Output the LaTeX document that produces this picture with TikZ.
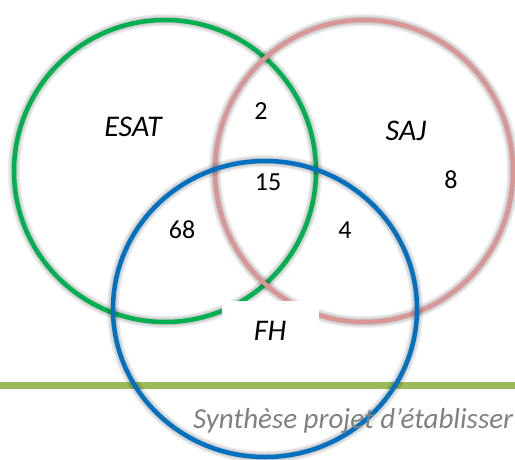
\documentclass[tikz,border=0pt]{standalone}
\usepackage{fontspec}
\setmainfont{Carlito}
\usepackage{xcolor}
\definecolor{venn-green}{HTML}{00B050}
\definecolor{venn-pink}{HTML}{D99694}
\definecolor{venn-blue}{HTML}{0070C0}
\definecolor{bar-green}{HTML}{9BBB59}
\definecolor{foot-grey}{HTML}{808080}
\usepackage{tikz}
\tikzset{ring/.style = {line width=4.5pt}}
\tikzset{ringshade/.style = {draw=black, opacity=.08, shift={(1.5,3)}}}
\tikzset{setname/.style = {font=\fontsize{30}{31}\selectfont\itshape}}
\tikzset{count/.style = {font=\fontsize{26}{27}\selectfont}}
\tikzset{footer/.style = {font=\fontsize{29}{31}\selectfont\itshape, text=foot-grey, inner sep=0}}

\begin{document}
\begin{tikzpicture}[x=1pt, y=-1pt]
\useasboundingbox (0,0) rectangle (515,459);

\coordinate (cesat) at (165,171);
\coordinate (csaj) at (364,171);
\coordinate (cfh) at (265,309);

\fill[bar-green] (0,382) rectangle (515,389);

% shadow first, ring on top
\foreach \w in {12,9,6} {
  \draw[ringshade, line width=\w pt] (cesat) circle (151);
}
\draw[ring, venn-green] (cesat) circle (151);
\foreach \w in {12,9,6} {
  \draw[ringshade, line width=\w pt] (csaj) ellipse (149 and 151);
}
\draw[ring, venn-pink] (csaj) ellipse (149 and 151);
\foreach \w in {12,9,6} {
  \draw[ringshade, line width=\w pt] (cfh) ellipse (152 and 148);
}
\draw[ring, venn-blue] (cfh) ellipse (152 and 148);

\fill[white] (222,301) rectangle (319,366);

\node[setname] (esat) at (133,127) {ESAT};
\node[setname] (saj) at (406,131) {SAJ};
\node[setname] (fh) at (270,331) {FH};
\node[count] (n2) at (261,111) {2};
\node[count] (n15) at (268,182) {15};
\node[count] (n8) at (451,180) {8};
\node[count] (n68) at (182,230) {68};
\node[count] (n4) at (345,230) {4};
\node[footer, anchor=base west] (foot) at (193,428) {Synthèse projet d’établisser};

\end{tikzpicture}
\end{document}
